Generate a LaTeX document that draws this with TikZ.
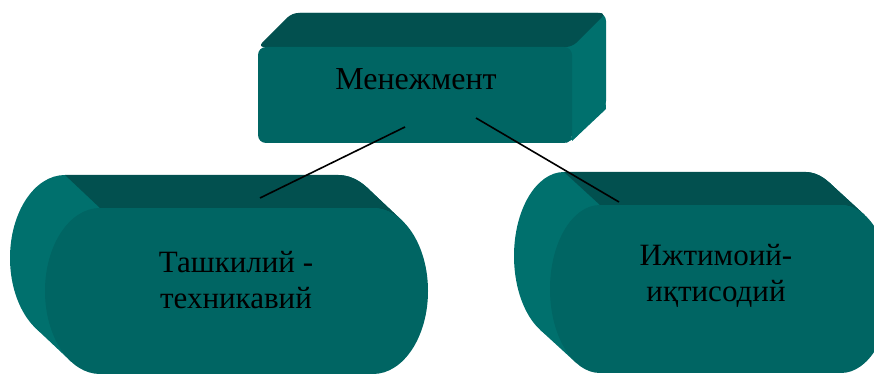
\documentclass[tikz,border=0pt]{standalone}
\usepackage{fontspec}
\setmainfont{Liberation Serif}
\definecolor{frontc}{HTML}{006563}
\definecolor{topc}{HTML}{02504F}
\definecolor{sidec}{HTML}{00706D}
\tikzset{
  lbl/.style={font=\fontsize{31}{36}\selectfont, align=center, inner sep=0pt, text=black},
  conn/.style={draw=black, line width=1.6pt}
}
\begin{document}
\begin{tikzpicture}[x=1pt,y=1pt]
\useasboundingbox (0,0) rectangle (874,374);
\begin{scope}
\clip (0,0) rectangle (874,374);
% ---- top box (Менежмент)
\fill[sidec, rounded corners=8] (292,265) rectangle (606,361);
\fill[sidec] (572,327) -- (600,355) -- (606,265) -- (572,233) -- cycle;
\fill[sidec] (566,231) -- (599,265) -- (606,270) -- (575,236) -- cycle;
\fill[topc, rounded corners=6] (258,327) -- (292,361) -- (606,361) -- (572,327) -- cycle;
\fill[frontc, rounded corners=8] (258,231) rectangle (572,327);
% ---- left cylinder
\fill[sidec] (65,116) ellipse (55 and 83);
\fill[sidec] (338,116) ellipse (55 and 83);
\fill[sidec] (65,33) rectangle (338,199);
\fill[sidec] (402.1,153.4) -- (367.1,186.4) -- (35.9,45.6) -- (70.9,12.6) -- cycle;
\fill[topc] (100,166) -- (373,166) arc[start angle=90,end angle=58,x radius=55,y radius=83]
   -- (367.1,186.4) arc[start angle=58,end angle=90,x radius=55,y radius=83] -- (65,199) -- cycle;
\fill[frontc] (100,83) ellipse (55 and 83);
\fill[frontc] (373,83) ellipse (55 and 83);
\fill[frontc] (100,0) rectangle (373,166);
% ---- right cylinder
\fill[sidec] (564,118) ellipse (50 and 84);
\fill[sidec] (805,118) ellipse (50 and 84);
\fill[sidec] (564,34) rectangle (805,202);
\fill[sidec] (864.9,158.8) -- (828.9,191.8) -- (540.1,44.2) -- (576.1,11.2) -- cycle;
\fill[topc] (600,169) -- (841,169) arc[start angle=90,end angle=61.4,x radius=50,y radius=84]
   -- (828.9,191.8) arc[start angle=61.4,end angle=90,x radius=50,y radius=84] -- (564,202) -- cycle;
\fill[frontc] (600,85) ellipse (50 and 84);
\fill[frontc] (841,85) ellipse (50 and 84);
\fill[frontc] (600,1) rectangle (841,169);
\end{scope}
% ---- texts
\node[font=\fontsize{32}{36}\selectfont, anchor=base, inner sep=0pt] (men) at (416,284) {Менежмент};
\node[lbl] (tash) at (236,94) {Ташкилий -\\техникавий};
\node[lbl] (ijt) at (716,98) {Ижтимоий-\\иқтисодий};
% ---- connectors
\coordinate (menL) at (405,247);
\coordinate (menR) at (476,256);
\coordinate (tashT) at (260,176);
\coordinate (ijtT) at (619,172);
\draw[conn] (menL) -- (tashT);
\draw[conn] (menR) -- (ijtT);
\end{tikzpicture}
\end{document}
